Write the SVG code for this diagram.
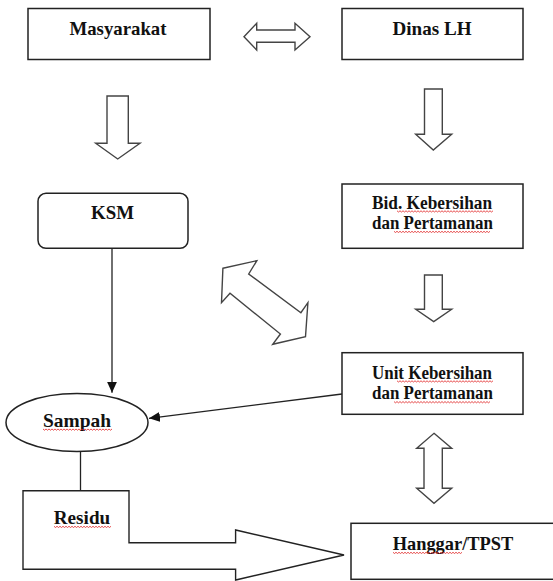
<svg xmlns="http://www.w3.org/2000/svg" xmlns:xlink="http://www.w3.org/1999/xlink" width="553" height="581" viewBox="0 0 553 581">
<style>
.box{fill:#fff;stroke:#222;stroke-width:1.5}
.blk{fill:#fff;stroke:#444;stroke-width:1.4;stroke-linejoin:miter}
.ln{fill:none;stroke:#222;stroke-width:1.3}
.lbl{font-family:"Liberation Serif","Times New Roman",serif;font-weight:bold;font-size:19px;fill:#111;text-anchor:middle}
.sm{font-size:18px}
.wv{fill:none;stroke:#e02020;stroke-width:0.8}
</style>
<defs>
<marker id="ah" markerUnits="userSpaceOnUse" markerWidth="11" markerHeight="10" refX="11" refY="5" orient="auto">
<path d="M0,0 L11,5 L0,10 Z" fill="#111"/>
</marker>
<path id="w96" class="wv" d="M0,0 l1.5,1.2 1.5,-1.2 1.5,1.2 1.5,-1.2 1.5,1.2 1.5,-1.2 1.5,1.2 1.5,-1.2 1.5,1.2 1.5,-1.2 1.5,1.2 1.5,-1.2 1.5,1.2 1.5,-1.2 1.5,1.2 1.5,-1.2 1.5,1.2 1.5,-1.2 1.5,1.2 1.5,-1.2 1.5,1.2 1.5,-1.2 1.5,1.2 1.5,-1.2 1.5,1.2 1.5,-1.2 1.5,1.2 1.5,-1.2 1.5,1.2 1.5,-1.2 1.5,1.2 1.5,-1.2 1.5,1.2 1.5,-1.2 1.5,1.2 1.5,-1.2 1.5,1.2 1.5,-1.2 1.5,1.2 1.5,-1.2 1.5,1.2 1.5,-1.2 1.5,1.2 1.5,-1.2 1.5,1.2 1.5,-1.2 1.5,1.2 1.5,-1.2 1.5,1.2 1.5,-1.2 1.5,1.2 1.5,-1.2 1.5,1.2 1.5,-1.2 1.5,1.2 1.5,-1.2 1.5,1.2 1.5,-1.2 1.5,1.2 1.5,-1.2 1.5,1.2 1.5,-1.2 1.5,1.2 1.5,-1.2"/>
<path id="w69" class="wv" d="M0,0 l1.5,1.2 1.5,-1.2 1.5,1.2 1.5,-1.2 1.5,1.2 1.5,-1.2 1.5,1.2 1.5,-1.2 1.5,1.2 1.5,-1.2 1.5,1.2 1.5,-1.2 1.5,1.2 1.5,-1.2 1.5,1.2 1.5,-1.2 1.5,1.2 1.5,-1.2 1.5,1.2 1.5,-1.2 1.5,1.2 1.5,-1.2 1.5,1.2 1.5,-1.2 1.5,1.2 1.5,-1.2 1.5,1.2 1.5,-1.2 1.5,1.2 1.5,-1.2 1.5,1.2 1.5,-1.2 1.5,1.2 1.5,-1.2 1.5,1.2 1.5,-1.2 1.5,1.2 1.5,-1.2 1.5,1.2 1.5,-1.2 1.5,1.2 1.5,-1.2 1.5,1.2 1.5,-1.2 1.5,1.2 1.5,-1.2"/>
<path id="w57" class="wv" d="M0,0 l1.5,1.2 1.5,-1.2 1.5,1.2 1.5,-1.2 1.5,1.2 1.5,-1.2 1.5,1.2 1.5,-1.2 1.5,1.2 1.5,-1.2 1.5,1.2 1.5,-1.2 1.5,1.2 1.5,-1.2 1.5,1.2 1.5,-1.2 1.5,1.2 1.5,-1.2 1.5,1.2 1.5,-1.2 1.5,1.2 1.5,-1.2 1.5,1.2 1.5,-1.2 1.5,1.2 1.5,-1.2 1.5,1.2 1.5,-1.2 1.5,1.2 1.5,-1.2 1.5,1.2 1.5,-1.2 1.5,1.2 1.5,-1.2 1.5,1.2 1.5,-1.2 1.5,1.2 1.5,-1.2"/>
</defs>
<rect width="553" height="581" fill="#fff"/>

<g id="connectors">
<polygon class="blk" points="244,36.7 256.7,23.3 256.7,30 295,30 295,23.3 310,36.7 295,50 295,42.3 256.7,42.3 256.7,50"/>
<polygon class="blk" points="107,96 128.3,96 128.3,143.3 140,143.3 117.7,159 95.7,143.3 107,143.3"/>
<polygon class="blk" points="424.5,89 442.3,89 442.3,134.3 451.7,134.3 433.3,150 415.7,134.3 424.5,134.3"/>
<polygon class="blk" points="424.5,275 442.3,275 442.3,309.3 451.7,309.3 433.7,321.7 415.7,309.3 424.5,309.3"/>
<polygon class="blk" points="222.9,268.3 256.8,260.7 248.7,274 300.9,312.7 307.9,302.7 305.5,336.7 272.7,344.3 280.4,334 230,293.3 221.5,302.7"/>
<polygon class="blk" points="434,433.3 451.7,448.3 442.3,448.3 442.3,488.3 451.7,488.3 434,503.3 416.7,488.3 424,488.3 424,448.3 416.7,448.3"/>
<line class="ln" x1="112" y1="248.3" x2="112" y2="392.7" marker-end="url(#ah)"/>
<line class="ln" x1="342" y1="394" x2="149" y2="418.3" marker-end="url(#ah)"/>
<line class="ln" x1="80.5" y1="451.5" x2="80.5" y2="490.7"/>
</g>

<g id="masyarakat">
<rect class="box" x="28" y="8.5" width="182" height="51"/>
<text class="lbl" x="118" y="35" textLength="97" lengthAdjust="spacingAndGlyphs">Masyarakat</text>
</g>

<g id="dinas-lh">
<rect class="box" x="342" y="8.5" width="181" height="51"/>
<text class="lbl" x="432" y="35" textLength="79" lengthAdjust="spacingAndGlyphs">Dinas LH</text>
</g>

<g id="ksm">
<rect class="box" x="38" y="193.3" width="150" height="55" rx="8" ry="8"/>
<text class="lbl" x="112.5" y="219.3" textLength="43" lengthAdjust="spacingAndGlyphs">KSM</text>
</g>

<g id="bid-kebersihan">
<rect class="box" x="342" y="184" width="181" height="64.3"/>
<text class="lbl sm" x="432" y="208.5" textLength="120" lengthAdjust="spacingAndGlyphs">Bid. Kebersihan</text>
<text class="lbl sm" x="432.5" y="229" textLength="121" lengthAdjust="spacingAndGlyphs">dan Pertamanan</text>
<use xlink:href="#w96" href="#w96" x="397" y="210.8"/>
<use xlink:href="#w96" href="#w96" x="394" y="231.3"/>
</g>

<g id="unit-kebersihan">
<rect class="box" x="342" y="352.7" width="181" height="61.6"/>
<text class="lbl sm" x="432" y="378.5" textLength="120" lengthAdjust="spacingAndGlyphs">Unit Kebersihan</text>
<text class="lbl sm" x="432.5" y="399.3" textLength="121" lengthAdjust="spacingAndGlyphs">dan Pertamanan</text>
<use xlink:href="#w96" href="#w96" x="397" y="380.8"/>
<use xlink:href="#w96" href="#w96" x="394" y="401.6"/>
</g>

<g id="sampah">
<ellipse class="box" cx="77" cy="422.5" rx="71" ry="29"/>
<text class="lbl" x="77" y="426.7" textLength="68" lengthAdjust="spacingAndGlyphs">Sampah</text>
<use xlink:href="#w69" href="#w69" x="43" y="429"/>
</g>

<g id="residu">
<polygon class="blk" style="stroke:#222" points="23,490.7 129,490.7 129,542.7 235.6,542.7 235.6,530 344,555 235.6,580 235.6,569.3 23,569.3"/>
<text class="lbl" x="82" y="524" textLength="56.4" lengthAdjust="spacingAndGlyphs">Residu</text>
<use xlink:href="#w57" href="#w57" x="54" y="526.3"/>
</g>

<g id="hanggar-tpst">
<rect class="box" x="351" y="523.3" width="220" height="56"/>
<text class="lbl" x="453" y="550" textLength="120.6" lengthAdjust="spacingAndGlyphs">Hanggar/TPST</text>
<use xlink:href="#w69" href="#w69" x="393" y="552.3"/>
</g>
</svg>
